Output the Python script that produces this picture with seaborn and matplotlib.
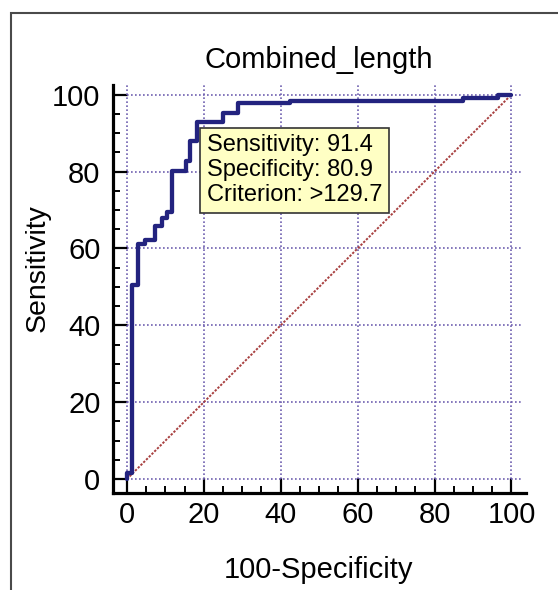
import matplotlib.pyplot as plt
import seaborn as sns
from matplotlib.patches import Rectangle
from matplotlib.ticker import MultipleLocator

# ROC operating points (100-Specificity, Sensitivity)
fpr = [0, 0, 1.3, 2.9, 4.8, 7.3, 9.1, 10.4, 11.7, 15.3, 16.4, 18.2,
       24.9, 29.0, 42.4, 87.5, 96.6, 100]
tpr = [0, 1.7, 50.6, 61.2, 62.1, 65.8, 67.9, 69.5, 80.1, 82.8, 87.9, 92.8,
       95.1, 97.7, 98.3, 99.0, 100, 100]

diag = [0, 100]
grid_ticks = [0, 20, 40, 60, 80, 100]

title = "Combined_length"
crit_sens = 91.4
crit_spec = 80.9
crit_value = ">129.7"


def plot_roc(out="out.png"):
    sns.set_theme(style="white")
    plt.rcParams["font.family"] = ["Liberation Sans", "DejaVu Sans"]
    plt.rcParams["text.color"] = "black"

    fig = plt.figure(figsize=(5.58, 5.90), dpi=100)
    ax = fig.add_axes([0.2025, 0.1644, 0.7403, 0.6922])

    # dotted grid that starts at 0 and stops just past 100
    grid_kw = dict(colors="#7060B0", linestyles=(0, (1, 1.4)), linewidth=1.2, zorder=1)
    ax.hlines(grid_ticks, 0, 102.5, **grid_kw)
    ax.vlines(grid_ticks, 0, 102.5, **grid_kw)

    sns.lineplot(x=diag, y=diag, ax=ax, color="#A84040", linestyle=(0, (1.2, 0.8)),
                 linewidth=1.4, zorder=2)
    sns.lineplot(x=fpr, y=tpr, ax=ax, sort=False, estimator=None,
                 drawstyle="steps-post", color="#23237F", linewidth=3.1, zorder=3)

    ax.set_xlim(-3.6, 103.8)
    ax.set_ylim(-3.6, 102.6)
    ax.set_xticks(grid_ticks)
    ax.set_yticks(grid_ticks)
    ax.xaxis.set_minor_locator(MultipleLocator(5))
    ax.yaxis.set_minor_locator(MultipleLocator(5))
    ax.tick_params(which="both", direction="in", bottom=True, left=True,
                   color="black", labelcolor="black")
    ax.tick_params(which="major", length=10.5, width=1.6, labelsize=21, pad=9)
    ax.tick_params(which="minor", length=5, width=1.4)
    ax.tick_params(axis="x", which="major", pad=6)

    sns.despine(ax=ax)
    for side in ["left", "bottom"]:
        ax.spines[side].set_color("black")
        ax.spines[side].set_linewidth(2.3)
    ax.set_xlabel("")
    ax.set_ylabel("")

    txt = (f"Sensitivity: {crit_sens}\n"
           f"Specificity: {crit_spec}\n"
           f"Criterion: {crit_value}")
    ax.annotate(txt, xy=(100 - crit_spec, crit_sens), xytext=(4.8, -4.8),
                textcoords="offset points", ha="left", va="top",
                fontsize=17, linespacing=1.17, zorder=5, color="black",
                bbox=dict(boxstyle="square,pad=0.28", fc="#FFFFC4",
                          ec="#333333", lw=1.2))

    fig.text(319 / 558, 1 - 67.6 / 590, title, ha="center", va="baseline",
             fontsize=21, color="black")
    fig.text(319 / 558, 1 - 578 / 590, "100-Specificity", ha="center",
             va="baseline", fontsize=21, color="black")
    fig.text(38 / 558, 1 - 268 / 590, "Sensitivity", ha="center", va="center",
             rotation=90, fontsize=20.5, color="black")

    # outer frame, open at right and bottom
    fig.add_artist(Rectangle((11 / 558, -0.1), 2, 1.1 - 13 / 590,
                             transform=fig.transFigure, fill=False,
                             edgecolor="#4A4A4A", linewidth=1.5))

    fig.savefig(out, dpi=100)


plot_roc()
